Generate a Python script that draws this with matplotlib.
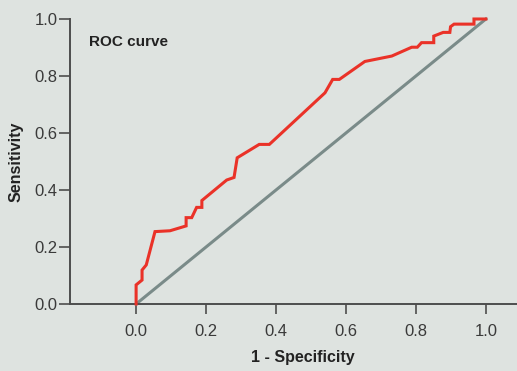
import numpy as np
import matplotlib
matplotlib.use('Agg')
import matplotlib.pyplot as plt
from matplotlib import font_manager

# ROC curve points (1 - specificity, sensitivity)
fpr = [0.0, 0.0, 0.017, 0.017, 0.029, 0.054, 0.097, 0.143, 0.143, 0.159, 0.173,
       0.188, 0.188, 0.259, 0.28, 0.289, 0.352, 0.381, 0.54, 0.562, 0.581,
       0.654, 0.731, 0.788, 0.804, 0.816, 0.851, 0.851, 0.878, 0.897, 0.899,
       0.909, 0.966, 0.966, 1.0]
tpr = [0.0, 0.067, 0.084, 0.119, 0.137, 0.254, 0.257, 0.274, 0.303, 0.303, 0.339,
       0.339, 0.363, 0.435, 0.444, 0.513, 0.560, 0.560, 0.741, 0.788, 0.788,
       0.851, 0.870, 0.901, 0.901, 0.917, 0.917, 0.940, 0.953, 0.953, 0.973,
       0.982, 0.982, 1.0, 1.0]
ref_x = [0.0, 1.0]
ref_y = [0.0, 1.0]
ticks = [0.0, 0.2, 0.4, 0.6, 0.8, 1.0]

names = {f.name for f in font_manager.fontManager.ttflist}
narrow = 'Liberation Sans Narrow' if 'Liberation Sans Narrow' in names else 'Liberation Sans'
plt.rcParams['font.family'] = [narrow, 'DejaVu Sans']

bg = '#dee3e0'
fig = plt.figure(figsize=(5.17, 3.71), dpi=100, facecolor=bg)
ax = fig.add_axes([70 / 517, 67 / 371, 1 - 70 / 517, 285 / 371])
ax.set_facecolor(bg)

ax.plot(ref_x, ref_y, color='#7a8b89', lw=2.2, clip_on=False, zorder=2)
ax.plot(fpr, tpr, color='#ea3228', lw=2.2, clip_on=False, zorder=3,
        solid_joinstyle='miter')

ax.set_xlim(-0.189, 1.089)
ax.set_ylim(0, 1.0)
ax.set_xticks(ticks)
ax.set_yticks(ticks)
ax.set_xticklabels(['%.1f' % t for t in ticks])
ax.set_yticklabels(['%.1f' % t for t in ticks])

for s in ['top', 'right']:
    ax.spines[s].set_visible(False)
for s in ['left', 'bottom']:
    ax.spines[s].set_color('#4d4d4d')
    ax.spines[s].set_linewidth(1.4)

ax.tick_params(axis='x', direction='out', length=7.5, width=1.2, color='#4d4d4d',
               pad=7, labelsize=12, labelcolor='#3a3a3a')
ax.tick_params(axis='y', direction='out', length=8, width=1.2, color='#4d4d4d',
               pad=1, labelsize=12, labelcolor='#3a3a3a')

ax.set_xlabel('1 - Specificity', fontsize=11.5, fontweight='bold', color='#222222')
ax.xaxis.set_label_coords(0.521, -0.163)
ax.set_ylabel('Sensitivity', fontsize=11.5, fontweight='bold', color='#222222')
ax.yaxis.set_label_coords(-0.105, 0.5)

fig.text(89 / 517, 1 - 42 / 371, 'ROC curve', fontsize=11, fontweight='bold',
         color='#222222', va='center', ha='left')

fig.savefig('out.png', dpi=100, facecolor=bg)
